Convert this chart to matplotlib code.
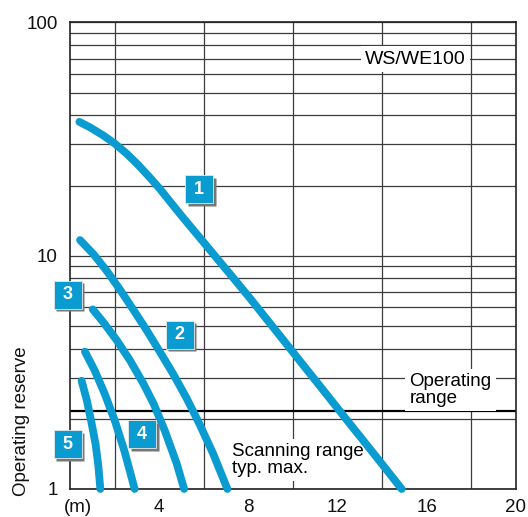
import numpy as np
import matplotlib.pyplot as plt
import matplotlib.transforms as mtransforms

plt.rcParams['font.family'] = ['Liberation Sans', 'DejaVu Sans']

# curves: x = distance (m), y = operating reserve
c1_x = [0.42, 0.90, 1.49, 2.02, 2.54, 3.06, 3.59, 4.04, 4.48, 5.01, 5.53, 6.05, 6.58, 7.32,
        8.07, 8.82, 9.57, 10.31, 11.06, 11.81, 12.56, 13.30, 14.05, 14.88]
c1_y = [37.5, 35.5, 32.8, 30.2, 27.4, 24.5, 21.6, 19.3, 17.1, 14.8, 12.9, 11.25, 9.77, 8.04,
        6.58, 5.35, 4.35, 3.54, 2.88, 2.34, 1.90, 1.55, 1.26, 1.0]
c2_x = [0.45, 1.05, 1.64, 2.24, 2.84, 3.44, 4.04, 4.63, 5.23, 5.83, 6.43, 7.06]
c2_y = [11.67, 10.16, 8.63, 7.16, 5.87, 4.79, 3.86, 3.11, 2.45, 1.88, 1.41, 1.0]
c3_x = [1.02, 1.49, 2.09, 2.69, 3.29, 3.75, 4.26, 4.78, 5.12]
c3_y = [5.89, 5.19, 4.35, 3.56, 2.83, 2.32, 1.77, 1.29, 1.0]
c4_x = [0.67, 1.12, 1.57, 2.02, 2.45, 2.90]
c4_y = [3.88, 3.20, 2.54, 1.95, 1.445, 1.0]
c5_x = [0.52, 0.75, 0.97, 1.15, 1.27, 1.36]
c5_y = [2.91, 2.41, 1.91, 1.55, 1.26, 1.0]
curves = [(c1_x, c1_y), (c2_x, c2_y), (c3_x, c3_y), (c4_x, c4_y), (c5_x, c5_y)]

# numbered labels
label_nums = ['1', '2', '3', '4', '5']
label_x = [5.80, 4.92, -0.11, 3.24, -0.11]
label_y = [19.3, 4.59, 6.79, 1.72, 1.556]

operating_limit = 2.15

x_ticks = [0.34, 4, 8, 12, 16, 20]
x_ticklabels = ['(m)', '4', '8', '12', '16', '20']
y_ticks = [1, 10, 100]
y_ticklabels = ['1', '10', '100']

blue = '#0A9BD0'
gridc = '#3c3c3c'

fig = plt.figure(figsize=(5.28, 5.17), dpi=100)
ax = fig.add_axes([0.1326, 0.0542, 0.8444, 0.9023])
ax.set_yscale('log')
ax.set_xlim(0, 20)
ax.set_ylim(1, 100)

ax.set_xticks(x_ticks, x_ticklabels)
ax.set_xticks(np.arange(2, 20, 2), minor=True)
ax.set_yticks(y_ticks, y_ticklabels)
ax.set_yticks([v * d for d in (1, 10) for v in range(2, 10)], minor=True)
ax.yaxis.set_minor_formatter(plt.NullFormatter())
ax.tick_params(which='both', length=0, labelsize=13.5, colors='#111111')
ax.tick_params(axis='x', pad=7)
ax.tick_params(axis='y', pad=9)

ax.grid(True, axis='x', which='minor', color=gridc, lw=0.9)
ax.grid(True, axis='y', which='both', color=gridc, lw=0.9)
ax.set_axisbelow(True)
for s in ax.spines.values():
    s.set_color('#222222')
    s.set_linewidth(1.2)

ax.axhline(operating_limit, color='black', lw=1.6, zorder=2)

for cx, cy in curves:
    ax.plot(cx, cy, color=blue, lw=5.6, solid_capstyle='round', solid_joinstyle='round',
            zorder=4, clip_on=False)

bg = dict(facecolor='white', edgecolor='none', pad=3)
ax.text(15.5, 69.7, 'WS/WE100', fontsize=14, ha='center', va='center', bbox=bg, zorder=3)
ax.text(15.23, 2.66, 'Operating\nrange', fontsize=13.5, ha='left', va='center',
        linespacing=1.0, bbox=bg, zorder=3)
ax.text(7.28, 1.33, 'Scanning range\ntyp. max.', fontsize=13.5, ha='left', va='center',
        linespacing=1.0, bbox=bg, zorder=3)

# boxed curve numbers with a small drop shadow
shadow = mtransforms.offset_copy(ax.transData, fig=fig, x=2.5, y=-2.5, units='dots')
ax.plot(label_x, label_y, ls='none', marker='s', ms=19.5, mfc='#777777', mec='none',
        transform=shadow, zorder=5, clip_on=False)
ax.plot(label_x, label_y, ls='none', marker='s', ms=19.5, mfc=blue, mec='#e8e8e8', mew=0.6,
        zorder=6, clip_on=False)
for n, lx, ly in zip(label_nums, label_x, label_y):
    ax.text(lx, ly, n, color='white', fontsize=13, fontweight='bold',
            ha='center', va='center', zorder=7, clip_on=False)

fig.text(22 / 528, 1 - 421 / 517, 'Operating reserve', rotation=90, fontsize=13.5,
         ha='center', va='center', color='#111111')

fig.savefig('out.png', dpi=100)
